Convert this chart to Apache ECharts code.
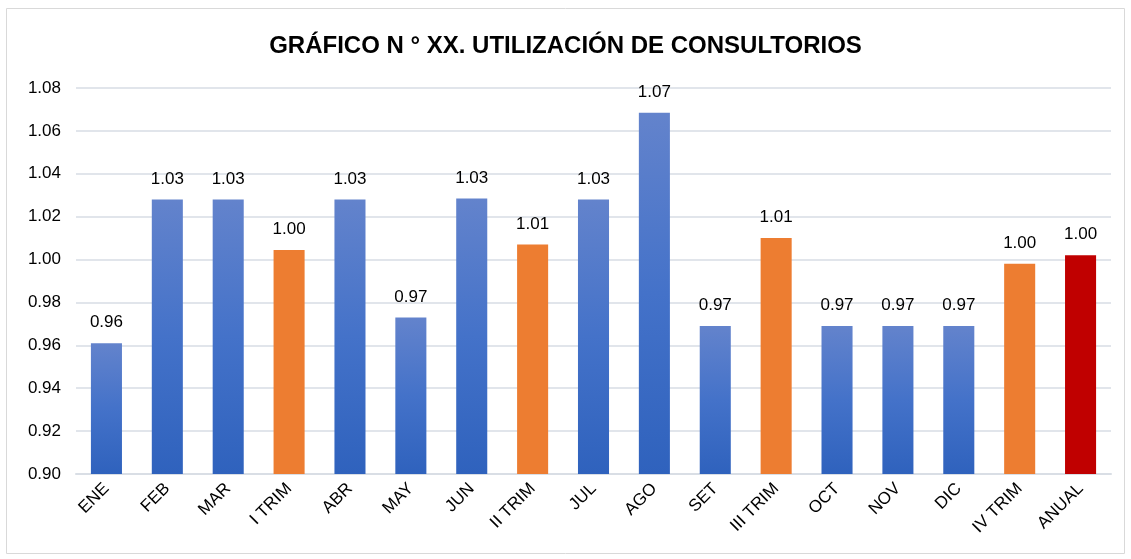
<!DOCTYPE html>
<html>
<head>
<meta charset="utf-8">
<script src="https://cdn.jsdelivr.net/npm/echarts@6/dist/echarts.min.js"></script>
<style>
  html, body { margin: 0; padding: 0; background: #fff; }
  #chart { width: 1131px; height: 559px; }
</style>
</head>
<body>
<div id="chart"></div>
<script>
// categorias (meses, trimestres y anual)
var categorias = ['ENE', 'FEB', 'MAR', 'I TRIM', 'ABR', 'MAY', 'JUN', 'II TRIM',
    'JUL', 'AGO', 'SET', 'III TRIM', 'OCT', 'NOV', 'DIC', 'IV TRIM', 'ANUAL'];
// utilizacion de consultorios
var utilizacion = [0.961, 1.028, 1.028, 1.0045, 1.028, 0.973, 1.0285, 1.007,
    1.028, 1.0685, 0.969, 1.010, 0.969, 0.969, 0.969, 0.998, 1.002];
var ticksY = [0.90, 0.92, 0.94, 0.96, 0.98, 1.00, 1.02, 1.04, 1.06, 1.08];

var azul = new echarts.graphic.LinearGradient(0, 0, 0, 1, [
    {offset: 0, color: '#6383CC'},
    {offset: 0.5, color: '#4472C9'},
    {offset: 1, color: '#2F62BD'}
]);

function colorDe(cat) {
    if (cat === 'ANUAL') return '#C00000';
    if (cat.indexOf('TRIM') >= 0) return '#ED7D31';
    return azul;
}

var datos = utilizacion.map(function (v, i) {
    return {value: v, itemStyle: {color: colorDe(categorias[i])}};
});

var myChart = echarts.init(document.getElementById('chart'));
var option = {
    animation: false,
    textStyle: {fontFamily: 'Liberation Sans, Arial, sans-serif'},
    title: {
        text: 'GRÁFICO N ° XX. UTILIZACIÓN DE CONSULTORIOS',
        left: 'center',
        top: 29,
        textStyle: {fontSize: 24, fontWeight: 'bold', color: '#000'}
    },
    graphic: [{
        type: 'rect',
        shape: {x: 6.5, y: 8.5, width: 1118, height: 545},
        style: {fill: 'none', stroke: '#D9D9D9', lineWidth: 1},
        silent: true
    }],
    grid: {left: 76, right: 20, top: 88, bottom: 85},
    xAxis: {
        type: 'category',
        data: categorias,
        axisLine: {lineStyle: {color: '#D9DEE5', width: 2}},
        axisTick: {show: false},
        axisLabel: {rotate: 45, fontSize: 17, color: '#000', margin: 12, interval: 0}
    },
    yAxis: {
        type: 'value',
        min: 0.90,
        max: 1.08,
        interval: 0.02,
        axisLine: {show: false},
        axisTick: {show: false},
        splitLine: {lineStyle: {color: '#E1E5EB', width: 2}},
        axisLabel: {
            fontSize: 17, color: '#000', margin: 15,
            formatter: function (v) { return v.toFixed(2); }
        }
    },
    series: [{
        type: 'bar',
        data: datos,
        barWidth: '51%',
        label: {
            show: true,
            position: 'top',
            distance: 12,
            fontSize: 17,
            color: '#000',
            formatter: function (p) { return p.value.toFixed(2); }
        }
    }]
};
myChart.setOption(option);
</script>
</body>
</html>
